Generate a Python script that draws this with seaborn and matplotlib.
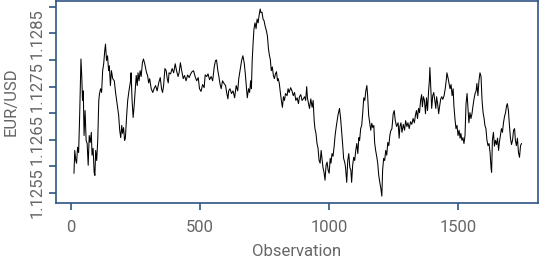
import numpy as np
import pandas as pd
import seaborn as sns
import matplotlib.pyplot as plt

# observation index
obs = [12, 15, 19, 22, 26, 30, 34, 39, 42, 45, 48, 51, 55, 59, 63, 67, 71, 75, 79, 82,
       86, 90, 93, 96, 100, 104, 108, 111, 115, 119, 123, 127, 131, 134, 138, 142, 146, 149, 153, 157,
       162, 168, 173, 179, 185, 189, 193, 197, 200, 204, 208, 211, 216, 220, 224, 228, 231, 233, 237, 241,
       245, 249, 253, 257, 260, 264, 268, 272, 277, 281, 286, 289, 293, 297, 301, 305, 311, 317, 322, 328,
       334, 340, 346, 351, 355, 359, 364, 369, 373, 377, 380, 386, 392, 398, 404, 409, 415, 419, 424, 429,
       435, 440, 446, 452, 458, 464, 469, 475, 481, 487, 493, 498, 504, 510, 516, 520, 526, 531, 537, 543,
       549, 555, 560, 564, 569, 573, 577, 582, 587, 593, 599, 603, 608, 611, 616, 622, 628, 634, 640, 646,
       650, 655, 661, 666, 671, 675, 679, 683, 688, 692, 696, 699, 702, 706, 709, 713, 717, 721, 725, 729,
       733, 736, 740, 744, 748, 752, 757, 761, 765, 769, 772, 776, 780, 784, 788, 792, 796, 800, 803, 807,
       811, 815, 819, 823, 827, 831, 837, 841, 845, 851, 856, 861, 866, 871, 876, 881, 885, 890, 895, 900,
       905, 909, 913, 916, 920, 924, 929, 934, 938, 942, 945, 949, 953, 957, 961, 965, 969, 973, 976, 980,
       984, 988, 992, 996, 1000, 1004, 1007, 1011, 1015, 1019, 1023, 1027, 1031, 1034, 1040, 1044, 1048, 1052, 1056, 1060,
       1063, 1068, 1072, 1076, 1080, 1084, 1087, 1091, 1095, 1099, 1103, 1107, 1111, 1115, 1118, 1122, 1126, 1130, 1134, 1138,
       1142, 1146, 1149, 1153, 1157, 1161, 1165, 1169, 1173, 1176, 1180, 1184, 1188, 1192, 1196, 1200, 1204, 1207, 1211, 1215,
       1219, 1223, 1227, 1231, 1235, 1238, 1243, 1248, 1252, 1256, 1261, 1267, 1271, 1274, 1278, 1282, 1287, 1292, 1296, 1301,
       1305, 1310, 1315, 1320, 1325, 1330, 1334, 1338, 1342, 1346, 1350, 1354, 1358, 1361, 1365, 1369, 1373, 1377, 1381, 1385,
       1388, 1390, 1393, 1397, 1401, 1405, 1409, 1413, 1416, 1420, 1424, 1428, 1432, 1436, 1440, 1445, 1450, 1454, 1456, 1460,
       1464, 1468, 1472, 1476, 1480, 1483, 1487, 1491, 1495, 1499, 1503, 1507, 1510, 1514, 1518, 1522, 1526, 1530, 1534, 1538,
       1541, 1545, 1549, 1553, 1557, 1561, 1565, 1569, 1572, 1576, 1580, 1584, 1588, 1592, 1596, 1600, 1603, 1607, 1611, 1615,
       1619, 1623, 1627, 1629, 1632, 1636, 1640, 1644, 1648, 1652, 1656, 1659, 1663, 1667, 1671, 1675, 1679, 1683, 1687, 1690,
       1694, 1698, 1702, 1706, 1710, 1714, 1718, 1721, 1725, 1729, 1733, 1737, 1741, 1745]

# EUR/USD rate
eurusd = [1.12587, 1.12630, 1.12611, 1.12606, 1.12636, 1.12626, 1.12696, 1.12802, 1.12771, 1.12724,
          1.12742, 1.12658, 1.12705, 1.12649, 1.12643, 1.12602, 1.12658, 1.12645, 1.12664, 1.12621,
          1.12634, 1.12589, 1.12583, 1.12630, 1.12611, 1.12649, 1.12724, 1.12737, 1.12746, 1.12739,
          1.12780, 1.12793, 1.12817, 1.12830, 1.12799, 1.12808, 1.12780, 1.12789, 1.12752, 1.12780,
          1.12765, 1.12761, 1.12739, 1.12718, 1.12696, 1.12668, 1.12654, 1.12677, 1.12662, 1.12673,
          1.12649, 1.12653, 1.12696, 1.12724, 1.12739, 1.12752, 1.12761, 1.12776, 1.12724, 1.12692,
          1.12714, 1.12742, 1.12771, 1.12752, 1.12776, 1.12761, 1.12780, 1.12769, 1.12795, 1.12802,
          1.12793, 1.12786, 1.12776, 1.12771, 1.12757, 1.12765, 1.12746, 1.12739, 1.12746, 1.12752,
          1.12742, 1.12757, 1.12767, 1.12746, 1.12739, 1.12752, 1.12784, 1.12780, 1.12765, 1.12757,
          1.12776, 1.12774, 1.12784, 1.12776, 1.12793, 1.12780, 1.12769, 1.12776, 1.12795, 1.12780,
          1.12765, 1.12771, 1.12761, 1.12772, 1.12767, 1.12774, 1.12778, 1.12780, 1.12769, 1.12761,
          1.12767, 1.12746, 1.12741, 1.12754, 1.12748, 1.12772, 1.12769, 1.12774, 1.12763, 1.12769,
          1.12761, 1.12787, 1.12799, 1.12800, 1.12780, 1.12769, 1.12756, 1.12746, 1.12761, 1.12756,
          1.12752, 1.12739, 1.12727, 1.12742, 1.12746, 1.12737, 1.12742, 1.12729, 1.12752, 1.12742,
          1.12765, 1.12780, 1.12799, 1.12808, 1.12795, 1.12776, 1.12752, 1.12729, 1.12746, 1.12739,
          1.12761, 1.12746, 1.12799, 1.12836, 1.12859, 1.12870, 1.12859, 1.12877, 1.12870, 1.12885,
          1.12896, 1.12889, 1.12890, 1.12877, 1.12874, 1.12864, 1.12855, 1.12845, 1.12821, 1.12808,
          1.12802, 1.12780, 1.12787, 1.12771, 1.12765, 1.12774, 1.12778, 1.12761, 1.12765, 1.12756,
          1.12739, 1.12724, 1.12711, 1.12731, 1.12724, 1.12737, 1.12733, 1.12746, 1.12739, 1.12748,
          1.12742, 1.12733, 1.12739, 1.12724, 1.12729, 1.12718, 1.12731, 1.12735, 1.12724, 1.12727,
          1.12731, 1.12724, 1.12750, 1.12729, 1.12718, 1.12709, 1.12727, 1.12711, 1.12724, 1.12686,
          1.12671, 1.12662, 1.12643, 1.12634, 1.12611, 1.12606, 1.12630, 1.12611, 1.12598, 1.12589,
          1.12574, 1.12602, 1.12608, 1.12593, 1.12587, 1.12615, 1.12606, 1.12624, 1.12619, 1.12636,
          1.12658, 1.12673, 1.12686, 1.12696, 1.12709, 1.12692, 1.12668, 1.12643, 1.12615, 1.12608,
          1.12600, 1.12570, 1.12611, 1.12624, 1.12598, 1.12593, 1.12570, 1.12602, 1.12617, 1.12611,
          1.12630, 1.12643, 1.12624, 1.12654, 1.12649, 1.12671, 1.12677, 1.12701, 1.12729, 1.12724,
          1.12742, 1.12752, 1.12733, 1.12696, 1.12682, 1.12668, 1.12681, 1.12673, 1.12677, 1.12645,
          1.12630, 1.12619, 1.12606, 1.12583, 1.12570, 1.12559, 1.12544, 1.12593, 1.12615, 1.12611,
          1.12630, 1.12621, 1.12645, 1.12639, 1.12658, 1.12666, 1.12671, 1.12699, 1.12705, 1.12686,
          1.12675, 1.12682, 1.12653, 1.12675, 1.12682, 1.12664, 1.12679, 1.12668, 1.12686, 1.12675,
          1.12682, 1.12671, 1.12684, 1.12679, 1.12690, 1.12682, 1.12696, 1.12705, 1.12690, 1.12709,
          1.12701, 1.12724, 1.12735, 1.12712, 1.12731, 1.12724, 1.12699, 1.12729, 1.12705, 1.12742,
          1.12761, 1.12786, 1.12752, 1.12709, 1.12733, 1.12739, 1.12724, 1.12709, 1.12731, 1.12718,
          1.12699, 1.12714, 1.12727, 1.12731, 1.12726, 1.12733, 1.12748, 1.12765, 1.12776, 1.12767,
          1.12757, 1.12746, 1.12754, 1.12733, 1.12746, 1.12714, 1.12690, 1.12671, 1.12677, 1.12658,
          1.12668, 1.12653, 1.12662, 1.12649, 1.12654, 1.12643, 1.12658, 1.12718, 1.12737, 1.12705,
          1.12682, 1.12701, 1.12690, 1.12699, 1.12714, 1.12727, 1.12737, 1.12742, 1.12756, 1.12733,
          1.12761, 1.12776, 1.12769, 1.12724, 1.12701, 1.12690, 1.12677, 1.12671, 1.12649, 1.12639,
          1.12643, 1.12626, 1.12596, 1.12589, 1.12649, 1.12664, 1.12638, 1.12649, 1.12641, 1.12653,
          1.12630, 1.12645, 1.12658, 1.12671, 1.12664, 1.12682, 1.12694, 1.12701, 1.12714, 1.12718,
          1.12705, 1.12677, 1.12653, 1.12641, 1.12649, 1.12668, 1.12671, 1.12649, 1.12639, 1.12653,
          1.12626, 1.12617, 1.12639, 1.12643]

x_ticks = [0, 500, 1000, 1500]
y_ticks = [1.1255, 1.126, 1.1265, 1.127, 1.1275, 1.128, 1.1285, 1.129]
y_ticklabels = ["1.1255", "", "1.1265", "", "1.1275", "", "1.1285", ""]

df = pd.DataFrame({"Observation": obs, "EUR/USD": eurusd})

sns.set_style("ticks")
plt.rcParams['font.family'] = ['Roboto', 'DejaVu Sans']

text_col = "#666666"
axis_col = "#2f5584"

fig = plt.figure(figsize=(5.4, 2.58), dpi=100)
ax = fig.add_axes([0.104, 0.213, 0.892, 0.783])
sns.lineplot(data=df, x="Observation", y="EUR/USD", color="black", linewidth=0.75, ax=ax)

ax.set_xlim(-57, 1808)
ax.set_ylim(1.12531, 1.12911)
ax.set_xticks(x_ticks)
ax.set_yticks(y_ticks)
ax.set_yticklabels(y_ticklabels, rotation=90, va="center")
ax.tick_params(axis="both", colors=axis_col, labelcolor=text_col, labelsize=12,
               length=5, width=1.2, direction="out")
ax.tick_params(axis="x", pad=7)
ax.tick_params(axis="y", pad=3)
ax.set_xlabel("Observation", color=text_col, fontsize=12, labelpad=7)
ax.set_ylabel("EUR/USD", color=text_col, fontsize=12, labelpad=8)
for s in ax.spines.values():
    s.set_color(axis_col)
    s.set_linewidth(1.2)

fig.savefig("out.png", dpi=100)
